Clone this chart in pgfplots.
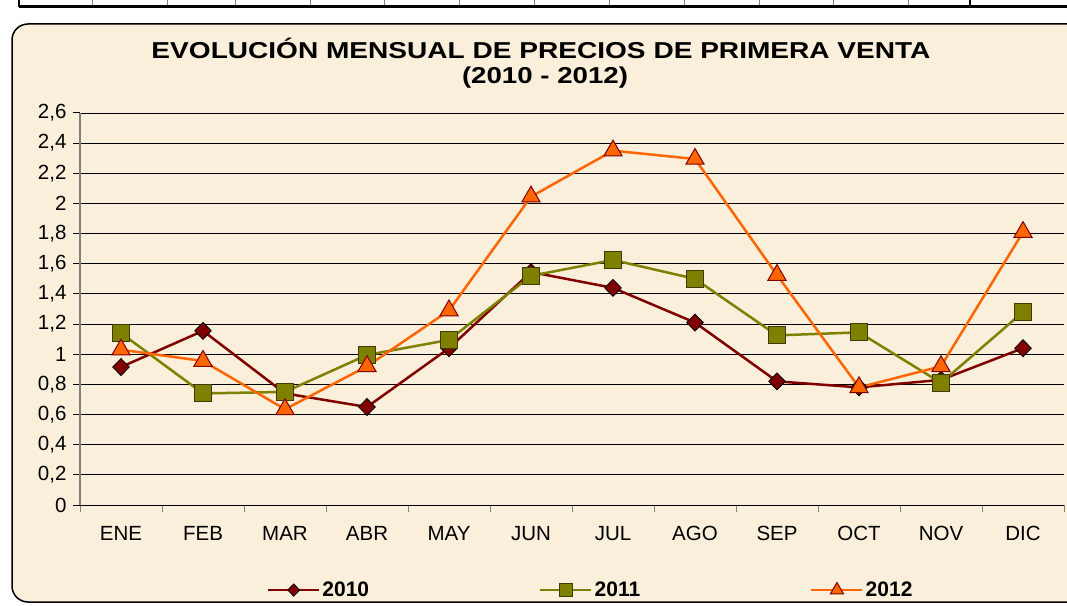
\documentclass[border=0pt]{standalone}
\usepackage{pgfplots}
\pgfplotsset{compat=1.18}
\usepackage{fontspec}
\setmainfont{Liberation Sans}
\usepackage{graphicx}
\definecolor{parch}{RGB}{249,239,218}
\definecolor{c10}{RGB}{128,0,0}
\definecolor{c11}{RGB}{128,128,0}
\definecolor{c11d}{RGB}{60,60,0}
\definecolor{c12}{RGB}{255,102,0}
\begin{document}
\begin{tikzpicture}[x=1pt,y=1pt]
\useasboundingbox (0,0) rectangle (1067,605);
\fill[white] (0,0) rectangle (1067,605);
% top strip
\foreach \xx in {92,167,235,310,384,459,534,609,684,759,833,908}{\draw[gray,line width=0.8pt] (\xx,599) -- (\xx,605);}
\draw[line width=3pt] (19,598) -- (1075,598);
\draw[line width=1.5pt] (19,598) -- (19,606);
\draw[line width=1.5pt] (970,598) -- (970,606);
% chart area
\draw[rounded corners=16pt, line width=1.5pt, fill=parch] (12,3) rectangle (1100,581);
\node at (541,557) {\resizebox{779pt}{\height}{\bfseries\fontsize{23}{27}\selectfont EVOLUCIÓN MENSUAL DE PRECIOS DE PRIMERA VENTA}};
\node at (545,527) {\resizebox{166pt}{\height}{\bfseries\fontsize{23}{27}\selectfont (2010 - 2012)}};
\begin{axis}[
  at={(80pt,100pt)}, anchor=south west,
  width=984pt, height=392pt, scale only axis,
  xmin=-0.5, xmax=11.5, ymin=0, ymax=2.6,
  clip=false,
  xtick={0,1,2,3,4,5,6,7,8,9,10,11},
  xticklabels={ENE,FEB,MAR,ABR,MAY,JUN,JUL,AGO,SEP,OCT,NOV,DIC},
  minor xtick={-0.5,0.5,1.5,2.5,3.5,4.5,5.5,6.5,7.5,8.5,9.5,10.5,11.5},
  ytick={0,0.2,0.4,0.6,0.8,1,1.2,1.4,1.6,1.8,2,2.2,2.4,2.6},
  yticklabels={0,{0,2},{0,4},{0,6},{0,8},1,{1,2},{1,4},{1,6},{1,8},2,{2,2},{2,4},{2,6}},
  ymajorgrids,
  grid style={black, line width=0.9pt},
  axis x line*=bottom, axis y line*=left,
  x axis line style={black, line width=1pt, -},
  y axis line style={gray, line width=1.2pt, -},
  tick align=outside,
  major tick length=7pt, minor tick length=7pt,
  major x tick style={draw=none},
  minor x tick style={gray, line width=1pt},
  major y tick style={black, line width=1pt},
  ticklabel style={font=\fontsize{20.5}{24}\selectfont},
  xticklabel style={yshift=-11pt},
  yticklabel style={xshift=-3pt},
  legend style={at={(rel axis cs:0.519,-0.217)}, anchor=center, draw=none, fill=none,
    font=\bfseries\fontsize{21}{25}\selectfont,
    /tikz/every even column/.append style={column sep=168pt}},
  legend columns=3,
  legend cell align=left,
  legend image code/.code={\draw[mark repeat=2,mark phase=2,#1,/tikz/every mark/.append style={scale=0.72}] plot coordinates {(0pt,0pt) (25.5pt,0pt) (51pt,0pt)};},
]
\addplot[c10, line width=2.5pt, mark=diamond*, mark size=8.5pt,
  mark options={xscale=1.3, fill=c10, draw=black, line width=0.8pt}]
  coordinates {(0,0.915)(1,1.155)(2,0.74)(3,0.65)(4,1.04)(5,1.545)(6,1.44)(7,1.21)(8,0.82)(9,0.78)(10,0.83)(11,1.04)};
\addlegendentry{2010}
\addplot[c11, line width=2.5pt, mark=square*, mark size=8.5pt,
  mark options={fill=c11, draw=c11d, line width=1pt}]
  coordinates {(0,1.14)(1,0.74)(2,0.75)(3,0.995)(4,1.095)(5,1.52)(6,1.625)(7,1.50)(8,1.125)(9,1.145)(10,0.81)(11,1.28)};
\addlegendentry{2011}
\addplot[c12, line width=2.5pt, mark=triangle*, mark size=10.5pt,
  mark options={fill=c12, draw=c10, line width=1pt}]
  coordinates {(0,1.03)(1,0.955)(2,0.635)(3,0.92)(4,1.29)(5,2.045)(6,2.35)(7,2.295)(8,1.525)(9,0.78)(10,0.92)(11,1.81)};
\addlegendentry{2012}
\end{axis}
\end{tikzpicture}
\end{document}
